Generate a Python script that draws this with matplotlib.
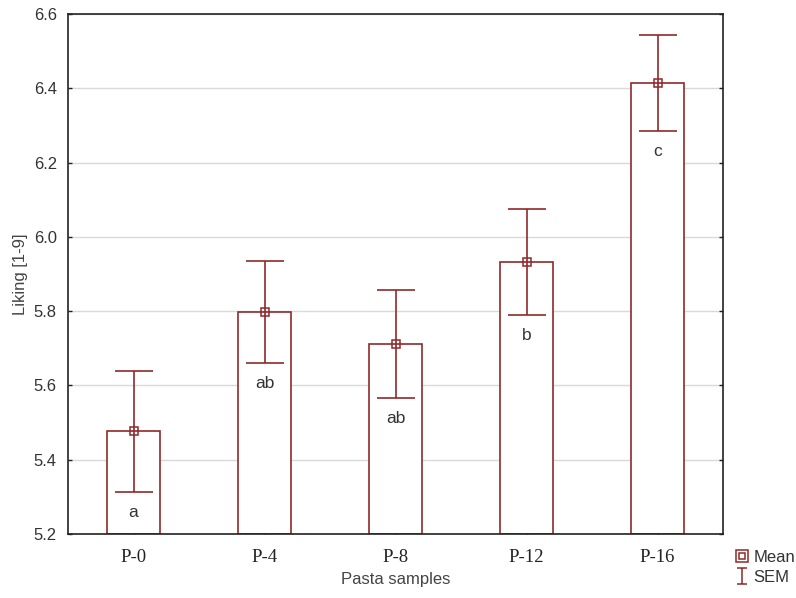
import numpy as np
import matplotlib
matplotlib.use("Agg")
import matplotlib.pyplot as plt
from matplotlib.lines import Line2D
from matplotlib.path import Path
from matplotlib.legend_handler import HandlerTuple

samples = ["P-0", "P-4", "P-8", "P-12", "P-16"]
means = [5.476, 5.798, 5.711, 5.933, 6.415]
sem = [0.162, 0.137, 0.145, 0.143, 0.129]
letters = ["a", "ab", "ab", "b", "c"]

red = "#8f2a2a"
x = np.arange(len(samples))

fig = plt.figure(figsize=(7.96, 5.98), dpi=100)
ax = fig.add_axes([68/796, 1-534/598, (723-68)/796, (534-14)/598])

ax.bar(x, [m - 5.2 for m in means], bottom=5.2, width=0.40, facecolor="white",
       edgecolor=red, linewidth=1.2, zorder=2)
ax.errorbar(x, means, yerr=sem, fmt="none", ecolor=red, elinewidth=1.2,
            capsize=14, capthick=1.2, zorder=3)
ax.plot(x, means, "s", ms=6, mfc="none", mec=red, mew=1.1, zorder=4)

for i in range(len(samples)):
    ax.text(x[i], means[i] - sem[i] - 0.055, letters[i], ha="center", va="center",
            fontsize=12.5, color="#333333", family="Liberation Sans")

ax.set_xlim(-0.5, 4.5)
ax.set_ylim(5.2, 6.6)
ax.set_yticks(np.arange(5.2, 6.61, 0.2))
ax.set_yticklabels(["%.1f" % v for v in np.arange(5.2, 6.61, 0.2)],
                   family="Liberation Sans", fontsize=12, color="#333333")
ax.set_xticks(x)
ax.set_xticklabels(samples, family="Liberation Serif", fontsize=13.5, color="#222222")
ax.tick_params(axis="both", direction="in", length=3, width=1, color="#222222")
ax.tick_params(axis="y", right=True, pad=8)
ax.tick_params(axis="x", pad=11)
ax.yaxis.grid(True, color="#d9d9d9", linewidth=1)
ax.set_axisbelow(True)
for s in ax.spines.values():
    s.set_linewidth(1.2)
    s.set_color("#222222")

ax.set_xlabel("Pasta samples", family="Liberation Sans", fontsize=12,
              color="#444444", labelpad=4)
ax.set_ylabel("Liking [1-9]", family="Liberation Sans", fontsize=12,
              color="#444444", labelpad=4)

# legend
ishape = Path([(-0.6, 1), (0.6, 1), (0, 1), (0, -1), (-0.6, -1), (0.6, -1)],
              [Path.MOVETO, Path.LINETO, Path.MOVETO, Path.LINETO, Path.MOVETO, Path.LINETO])
outer = Line2D([], [], ls="none", marker="s", ms=9, mfc="none", mec=red, mew=1.1)
inner = Line2D([], [], ls="none", marker="s", ms=4, mfc="none", mec=red, mew=1.1)
semh = Line2D([], [], ls="none", marker=ishape, ms=12, mfc="none", mec=red, mew=1.1)
fig.legend([(outer, inner), semh], ["Mean", "SEM"], loc="upper left",
           bbox_to_anchor=(720/796, 1-535/598), frameon=False,
           handler_map={tuple: HandlerTuple(ndivide=1)},
           handlelength=0.8, handletextpad=0.3, labelspacing=0.3,
           prop={"family": "Liberation Sans", "size": 12}, labelcolor="#333333")

fig.savefig("out.png", dpi=100)
